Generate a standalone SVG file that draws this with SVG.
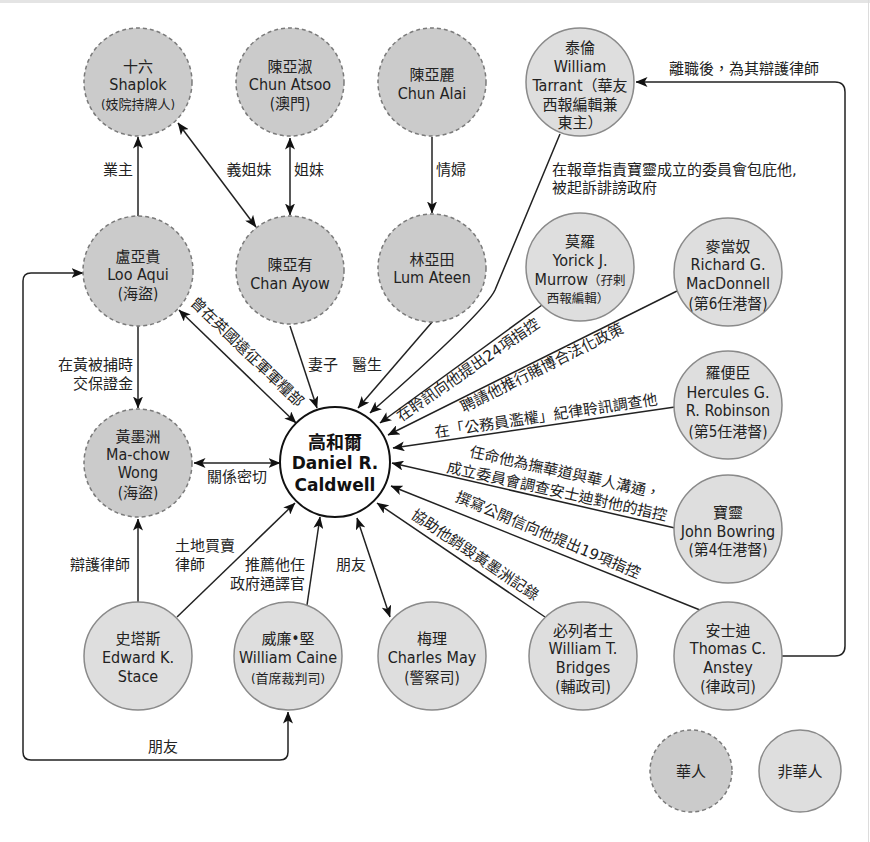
<svg xmlns="http://www.w3.org/2000/svg" width="870" height="842" viewBox="0 0 870 842">
<defs>
<style>
.c{fill:#cbcbcb;stroke:#7a7a7a;stroke-width:1.5;stroke-dasharray:4 3}
.f{fill:#dedede;stroke:#8a8a8a;stroke-width:1.5}
.t{font-family:"DejaVu Sans Condensed","DejaVu Sans","Noto Sans CJK TC",sans-serif;font-stretch:condensed;font-size:16px;fill:#222;text-anchor:middle}
.k{font-size:15px}
.s{font-size:13px}
.l{font-family:"DejaVu Sans","Noto Sans CJK TC",sans-serif;font-size:15px;fill:#222}
.m{text-anchor:middle}
.r{text-anchor:end}
.e{fill:none;stroke:#222;stroke-width:1.5}
.b{font-family:"DejaVu Sans","Noto Sans CJK TC",sans-serif;font-weight:bold;fill:#111;text-anchor:middle}
</style>
<marker id="a" viewBox="0 0 12 10" refX="11.5" refY="5" markerWidth="12" markerHeight="10" markerUnits="userSpaceOnUse" orient="auto-start-reverse">
<path d="M0,0 L12,5 L0,10 L3,5z" fill="#111"/>
</marker>
</defs>
<rect width="870" height="842" fill="#fff"/>
<rect width="870" height="3" fill="#e4e4e4"/>
<line x1="868.5" y1="0" x2="868.5" y2="842" stroke="#dcdcdc" stroke-width="1"/>

<g id="connectors">
<path class="e" d="M138,216 L138,137" marker-end="url(#a)"/>
<path class="e" d="M178,123 L256,227" marker-start="url(#a)" marker-end="url(#a)"/>
<path class="e" d="M290,138 L290,215" marker-start="url(#a)" marker-end="url(#a)"/>
<path class="e" d="M432,137 L432,213" marker-end="url(#a)"/>
<path class="e" d="M138,326 L138,408" marker-end="url(#a)"/>
<path class="e" d="M179,310 L296,423" marker-start="url(#a)" marker-end="url(#a)"/>
<path class="e" d="M290,326 L317,408" marker-end="url(#a)"/>
<path class="e" d="M433,321 L358,408" marker-end="url(#a)"/>
<path class="e" d="M560,134 L495,290 Q485,312 370,413" marker-end="url(#a)"/>
<path class="e" d="M542,305 L380,423" marker-end="url(#a)"/>
<path class="e" d="M677,291 L388,435" marker-end="url(#a)"/>
<path class="e" d="M675,407 L393,448" marker-end="url(#a)"/>
<path class="e" d="M675,528 L392,463" marker-end="url(#a)"/>
<path class="e" d="M700,610 L391,486" marker-end="url(#a)"/>
<path class="e" d="M545,617 L377,503" marker-end="url(#a)"/>
<path class="e" d="M390,617 L357,518" marker-start="url(#a)" marker-end="url(#a)"/>
<path class="e" d="M307,605 L320,517" marker-end="url(#a)"/>
<path class="e" d="M177,617 L295,503" marker-end="url(#a)"/>
<path class="e" d="M138,602 L138,519" marker-end="url(#a)"/>
<path class="e" d="M194,463 L280,463" marker-start="url(#a)" marker-end="url(#a)"/>
<path class="e" d="M782,656 H835 Q845,656 845,646 V92 Q845,82 835,82 H636" marker-end="url(#a)"/>
<path class="e" d="M83,273 H31 Q23,273 23,281 V752 Q23,760 31,760 H280 Q288,760 288,752 V712" marker-start="url(#a)" marker-end="url(#a)"/>

<text class="l m" x="118" y="175">業主</text>
<text class="l m" x="249" y="175">義姐妹</text>
<text class="l m" x="309" y="175">姐妹</text>
<text class="l m" x="451" y="175">情婦</text>
<text class="l" x="552" y="175">在報章指責寶靈成立的委員會包庇他,</text>
<text class="l" x="552" y="193">被起訴誹謗政府</text>
<text class="l m" x="744" y="74">離職後，為其辯護律師</text>
<text class="l r" x="133" y="370">在黃被捕時</text>
<text class="l r" x="133" y="389">交保證金</text>
<text class="l m" transform="translate(247,352) rotate(44)" y="5">曾在英國遠征軍軍糧部</text>
<text class="l m" x="323" y="370">妻子</text>
<text class="l m" x="367" y="370">醫生</text>
<text class="l m" transform="translate(468,370) rotate(-34.5)" y="5">在聆訊向他提出24項指控</text>
<text class="l m" transform="translate(542,368) rotate(-26.5)" y="5">聘請他推行賭博合法化政策</text>
<text class="l m" transform="translate(546,416) rotate(-8.5)" y="5">在「公務員濫權」紀律聆訊調查他</text>
<g transform="translate(557,491) rotate(12.5)">
<text class="l m" x="4" y="-14.5">任命他為撫華道與華人溝通，</text>
<text class="l m" x="0" y="5.5">成立委員會調查安士迪對他的指控</text>
</g>
<text class="l m" transform="translate(548,535) rotate(23)" y="5">撰寫公開信向他提出19項指控</text>
<text class="l m" transform="translate(475,555) rotate(34)" y="5">協助他銷毀黃墨洲記錄</text>
<text class="l m" x="237" y="482">關係密切</text>
<text class="l m" x="100" y="570">辯護律師</text>
<text class="l" x="175" y="551">土地買賣</text>
<text class="l" x="175" y="570">律師</text>
<text class="l r" x="305" y="570">推薦他任</text>
<text class="l r" x="305" y="589">政府通譯官</text>
<text class="l m" x="351" y="570">朋友</text>
<text class="l m" x="163" y="752">朋友</text>
</g>

<g id="n-shaplok">
<circle class="c" cx="138" cy="82" r="54"/>
<text class="t k" x="138" y="72">十六</text>
<text class="t" x="138" y="90">Shaplok</text>
<text class="t s" x="138" y="109">(妓院持牌人)</text>
</g>
<g id="n-chunatsoo">
<circle class="c" cx="290" cy="82" r="54"/>
<text class="t k" x="290" y="72">陳亞淑</text>
<text class="t" x="290" y="90">Chun Atsoo</text>
<text class="t k" x="290" y="109">(澳門)</text>
</g>
<g id="n-chunalai">
<circle class="c" cx="432" cy="82" r="54"/>
<text class="t k" x="432" y="80">陳亞麗</text>
<text class="t" x="432" y="99">Chun Alai</text>
</g>
<g id="n-tarrant">
<circle class="f" cx="580" cy="82" r="54"/>
<text class="t k" x="580" y="53">泰倫</text>
<text class="t" x="580" y="72">William</text>
<text class="t" x="580" y="91">Tarrant<tspan class="k">（華友</tspan></text>
<text class="t k" x="580" y="110">西報編輯兼</text>
<text class="t k" x="580" y="128">東主）</text>
</g>
<g id="n-looaqui">
<circle class="c" cx="138" cy="271" r="55"/>
<text class="t k" x="138" y="262">盧亞貴</text>
<text class="t" x="138" y="280">Loo Aqui</text>
<text class="t k" x="138" y="299">(海盜)</text>
</g>
<g id="n-chanayow">
<circle class="c" cx="290" cy="270" r="54"/>
<text class="t k" x="290" y="270">陳亞有</text>
<text class="t" x="290" y="289">Chan Ayow</text>
</g>
<g id="n-lumateen">
<circle class="c" cx="432" cy="268" r="54"/>
<text class="t k" x="432" y="265">林亞田</text>
<text class="t" x="432" y="283">Lum Ateen</text>
</g>
<g id="n-murrow">
<circle class="f" cx="580" cy="267" r="54"/>
<text class="t k" x="580" y="247">莫羅</text>
<text class="t" x="580" y="266">Yorick J.</text>
<text class="t" x="580" y="285">Murrow<tspan style="font-size:12.5px">（孖剌</tspan></text>
<text class="t" style="font-size:12.5px" x="578" y="303">西報編輯）</text>
</g>
<g id="n-macdonnell">
<circle class="f" cx="728" cy="272" r="54"/>
<text class="t k" x="728" y="252">麥當奴</text>
<text class="t" x="728" y="270">Richard G.</text>
<text class="t" x="728" y="289">MacDonnell</text>
<text class="t k" x="728" y="309">(第6任港督)</text>
</g>
<g id="n-robinson">
<circle class="f" cx="728" cy="405" r="54"/>
<text class="t k" x="728" y="378">羅便臣</text>
<text class="t" x="728" y="398">Hercules G.</text>
<text class="t" x="728" y="416">R. Robinson</text>
<text class="t k" x="728" y="437">(第5任港督)</text>
</g>
<g id="n-machow">
<circle class="c" cx="138" cy="463" r="54"/>
<text class="t k" x="138" y="442">黃墨洲</text>
<text class="t" x="138" y="460">Ma-chow</text>
<text class="t" x="138" y="478">Wong</text>
<text class="t k" x="138" y="498">(海盜)</text>
</g>
<g id="n-caldwell">
<circle cx="335" cy="462" r="55" fill="#fff" stroke="#111" stroke-width="2"/>
<text class="b" style="font-size:18px" x="335" y="449">高和爾</text>
<text class="b" style="font-size:17px" x="335" y="469">Daniel R.</text>
<text class="b" style="font-size:17px" x="335" y="491">Caldwell</text>
</g>
<g id="n-bowring">
<circle class="f" cx="728" cy="529" r="54"/>
<text class="t k" x="728" y="518">寶靈</text>
<text class="t" x="728" y="537">John Bowring</text>
<text class="t k" x="728" y="555">(第4任港督)</text>
</g>
<g id="n-stace">
<circle class="f" cx="138" cy="656" r="54"/>
<text class="t k" x="138" y="644">史塔斯</text>
<text class="t" x="138" y="663">Edward K.</text>
<text class="t" x="138" y="682">Stace</text>
</g>
<g id="n-caine">
<circle class="f" cx="288" cy="656" r="54"/>
<text class="t k" x="288" y="644">威廉•堅</text>
<text class="t" x="288" y="663">William Caine</text>
<text class="t s" x="288" y="683">(首席裁判司)</text>
</g>
<g id="n-may">
<circle class="f" cx="432" cy="656" r="54"/>
<text class="t k" x="432" y="644">梅理</text>
<text class="t" x="432" y="663">Charles May</text>
<text class="t k" x="432" y="683">(警察司)</text>
</g>
<g id="n-bridges">
<circle class="f" cx="583" cy="656" r="54"/>
<text class="t k" x="583" y="636">必列者士</text>
<text class="t" x="583" y="654">William T.</text>
<text class="t" x="583" y="673">Bridges</text>
<text class="t k" x="583" y="692">(輔政司)</text>
</g>
<g id="n-anstey">
<circle class="f" cx="728" cy="656" r="54"/>
<text class="t k" x="728" y="636">安士迪</text>
<text class="t" x="728" y="654">Thomas C.</text>
<text class="t" x="728" y="673">Anstey</text>
<text class="t k" x="728" y="692">(律政司)</text>
</g>
<g id="legend-chinese">
<circle class="c" cx="691" cy="771" r="41"/>
<text class="t k" x="691" y="777">華人</text>
</g>
<g id="legend-nonchinese">
<circle class="f" cx="800" cy="771" r="41"/>
<text class="t k" x="800" y="777">非華人</text>
</g>
</svg>
